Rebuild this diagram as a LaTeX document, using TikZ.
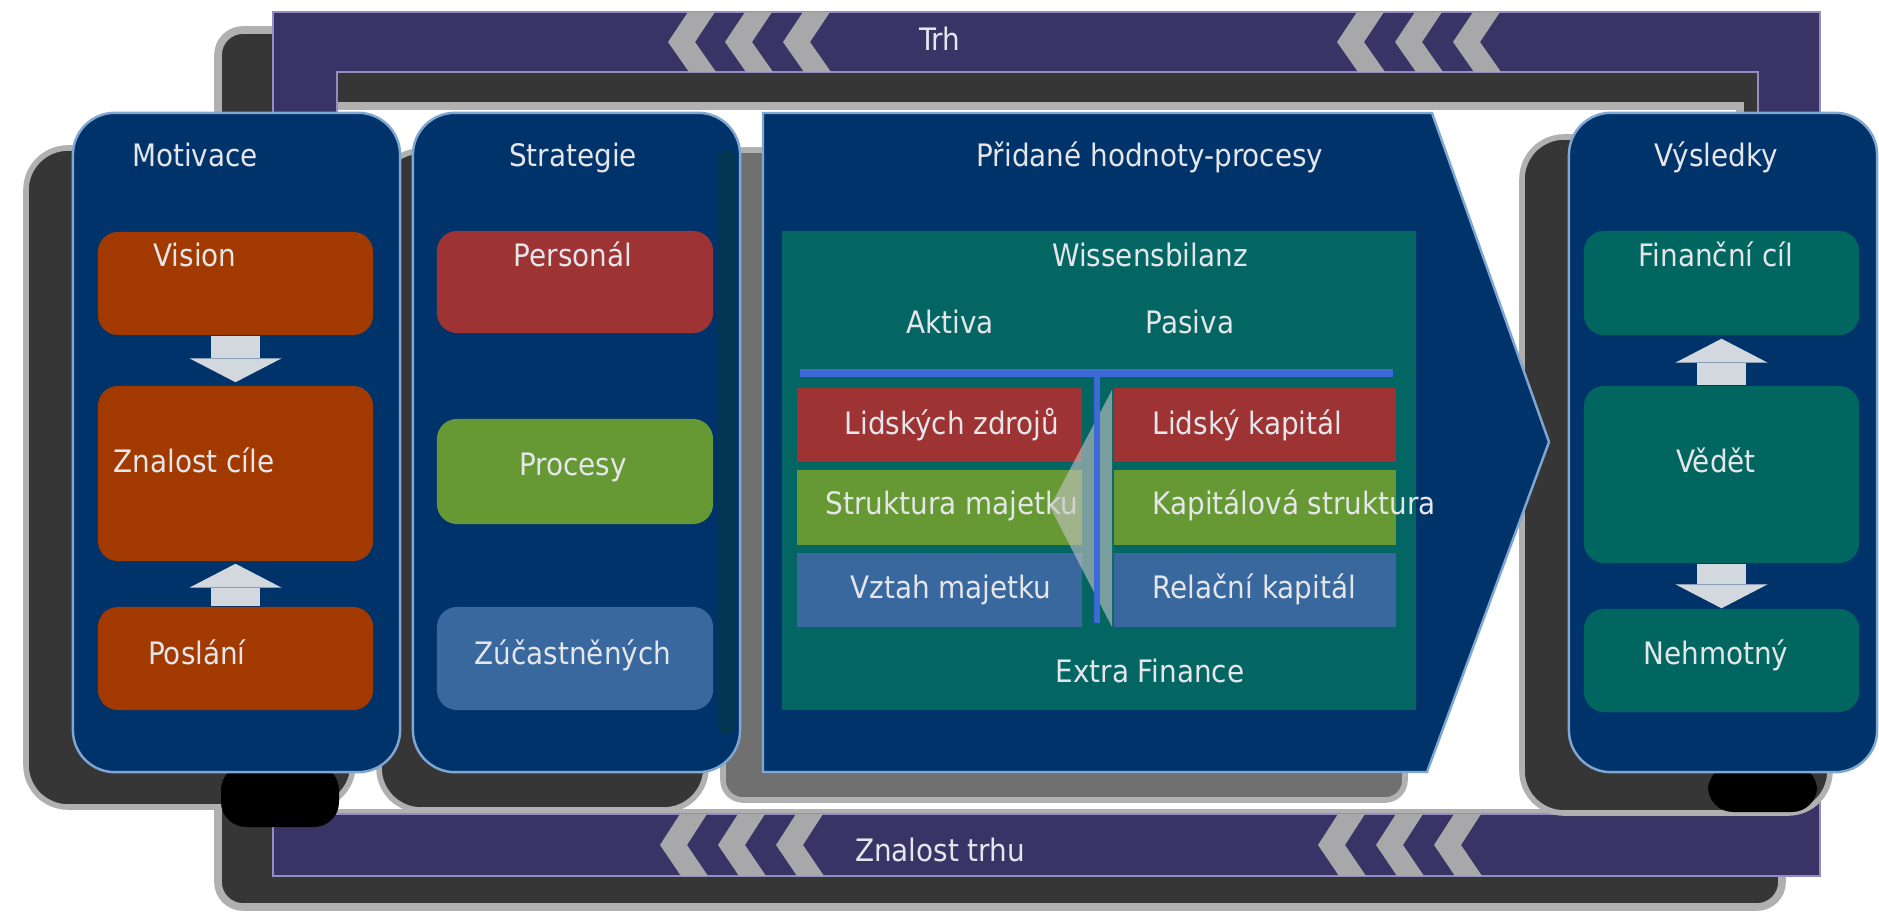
\documentclass[tikz,border=0pt]{standalone}
\usepackage{fontspec}
\setmainfont{DejaVu Sans Condensed}
\usetikzlibrary{arrows.meta}
\definecolor{navy}{HTML}{00336A}
\definecolor{purp}{HTML}{3A3366}
\definecolor{purpedge}{HTML}{958DC0}
\definecolor{darksh}{HTML}{363636}
\definecolor{glow}{HTML}{B0B0B0}
\definecolor{greysh}{HTML}{707070}
\definecolor{edgeb}{HTML}{80A6D2}
\definecolor{orng}{HTML}{A23A00}
\definecolor{redb}{HTML}{9E3333}
\definecolor{grnb}{HTML}{669933}
\definecolor{blub}{HTML}{38689E}
\definecolor{tealb}{HTML}{00665F}
\definecolor{tealw}{HTML}{036663}
\definecolor{linb}{HTML}{3D6AD6}
\definecolor{txtc}{HTML}{E4E6EA}
\definecolor{arrc}{HTML}{D3D8DE}
\definecolor{chevc}{HTML}{A8A8AA}
\definecolor{edgedark}{HTML}{053848}
\newcommand\mychev[3]{\fill[chevc] ({#1+20},#2) -- (#1,{(#2+#3)/2}) -- ({#1+21},#3) -- ({#1+48},#3) -- ({#1+27},{(#2+#3)/2}) -- ({#1+47},#2) -- cycle;}
\begin{document}
\begin{tikzpicture}[x=0.01cm,y=-0.01cm,
  txt/.style={text=txtc, inner sep=0pt, text height=0.22cm, text depth=0pt, font=\fontsize{8.8pt}{10pt}\selectfont},
  colbox/.style={fill=navy, draw=edgeb, line width=0.7pt, rounded corners=0.42cm, inner sep=0pt},
  shadowbox/.style={fill=darksh, draw=glow, line width=1.6pt, rounded corners=0.42cm},
  ibox/.style={inner sep=0pt, rounded corners=0.2cm, minimum width=2.75cm},
  rowbox/.style={inner sep=0pt, minimum height=0.745cm},
  blk/.style={draw=arrc, line width=13.7pt, -{Triangle[length=6.8pt, width=26.2pt, line width=0pt]}}
]
\useasboundingbox (0,0) rectangle (1879,922);
\fill[white] (0,0) rectangle (1879,922);
% dark back frame
\path[fill=darksh, draw=glow, line width=2.2pt, even odd rule]
  [rounded corners=0.25cm] (218,30) rectangle (1782,907)
  [sharp corners] (300,106) rectangle (1740,813);
% purple frame
\path[fill=purp, draw=purpedge, line width=0.6pt, even odd rule]
  (273,12) rectangle (1820,876) (337,72) rectangle (1758,814);
% chevrons
\mychev{668}{12}{72}\mychev{725}{12}{72}\mychev{783}{12}{72}
\mychev{1337}{12}{72}\mychev{1395}{12}{72}\mychev{1453}{12}{72}
\mychev{660}{814}{876}\mychev{718}{814}{876}\mychev{776}{814}{876}
\mychev{1318}{814}{876}\mychev{1376}{814}{876}\mychev{1434}{814}{876}
\node[txt] (trh) at (940,40) {Trh};
\node[txt] (ztrh) at (940,850) {Znalost trhu};
% shadows
\path[shadowbox] (26,148) rectangle (353,807);
\path[shadowbox] (379,151) rectangle (706,810);
\path[shadowbox] (1522,137) rectangle (1830,813);
\path[fill=greysh, draw=glow, line width=1.6pt, rounded corners=0.2cm] (723,150) rectangle (1405,800);
\fill[black, rounded corners=0.25cm] (221,765) rectangle (339,827);
\fill[black, rounded corners=0.25cm] (1708,765) rectangle (1817,812);
% column boxes
\node[colbox, minimum width=3.27cm, minimum height=6.59cm] (motiv) at (236.5,442.5) {};
\node[colbox, minimum width=3.27cm, minimum height=6.59cm] (strat) at (576.5,442.5) {};
\fill[edgedark, opacity=0.7, rounded corners=0.1cm] (717,150) rectangle (736,735);
\node[colbox, minimum width=3.08cm, minimum height=6.59cm] (vysl) at (1723,442.5) {};
\path[fill=navy, draw=edgeb, line width=0.7pt] (763,113) -- (1432,113) -- (1549,442) -- (1427,772) -- (763,772) -- cycle;
% titles
\node[txt] (tmot) at (195,156) {Motivace};
\node[txt] (tstr) at (573,156) {Strategie};
\node[txt] (tpri) at (1150,156) {Přidané hodnoty-procesy};
\node[txt] (tvys) at (1716,156) {Výsledky};
% Motivace
\node[ibox, fill=orng, minimum height=1.03cm] (vision) at (235.5,283.5) {};
\node[ibox, fill=orng, minimum height=1.75cm] (znal) at (235.5,473.5) {};
\node[ibox, fill=orng, minimum height=1.03cm] (posl) at (235.5,658.5) {};
\node[txt] (tvision) at (195,255) {Vision};
\node[txt] (tznal) at (194,461) {Znalost cíle};
\node[txt] (tposl) at (197,653) {Poslání};
\draw[blk] (vision.south) -- ([yshift=0.03cm]znal.north);
\draw[blk] (posl.north) -- ([yshift=-0.02cm]znal.south);
% Strategie
\node[ibox, fill=redb, minimum width=2.76cm, minimum height=1.02cm] (pers) at (575,282) {};
\node[ibox, fill=grnb, minimum width=2.76cm, minimum height=1.05cm] (proc) at (575,471.5) {};
\node[ibox, fill=blub, minimum width=2.76cm, minimum height=1.03cm] (zuc) at (575,658.5) {};
\node[txt] (tpers) at (573,255) {Personál};
\node[txt] (tproc) at (573,464) {Procesy};
\node[txt] (tzuc) at (573,653) {Zúčastněných};
% Vysledky
\node[ibox, fill=tealb, minimum height=1.04cm] (fin) at (1721.5,283) {};
\node[ibox, fill=tealb, minimum height=1.77cm] (vedet) at (1721.5,474.5) {};
\node[ibox, fill=tealb, minimum height=1.03cm] (nehm) at (1721.5,660.5) {};
\node[txt] (tfin) at (1716,255) {Finanční cíl};
\node[txt] (tvedet) at (1716,461) {Vědět};
\node[txt] (tnehm) at (1716,653) {Nehmotný};
\draw[blk] (vedet.north) -- ([yshift=-0.03cm]fin.south);
\draw[blk] (vedet.south) -- (nehm.north);
% Wissensbilanz
\node[fill=tealw, inner sep=0pt, minimum width=6.34cm, minimum height=4.79cm] (wiss) at (1099,470.5) {};
\node[txt] (twiss) at (1150,255) {Wissensbilanz};
\node[txt] (takt) at (950,323) {Aktiva};
\node[txt] (tpas) at (1190,323) {Pasiva};
\node[txt] (textra) at (1150,671) {Extra Finance};
\node[rowbox, fill=redb, minimum width=2.85cm] (l1) at (939.5,425) {};
\node[rowbox, fill=grnb, minimum width=2.85cm, minimum height=0.75cm] (l2) at (939.5,507.5) {};
\node[rowbox, fill=blub, minimum width=2.85cm] (l3) at (939.5,590) {};
\node[rowbox, fill=redb, minimum width=2.82cm] (r1) at (1255,425) {};
\node[rowbox, fill=grnb, minimum width=2.82cm, minimum height=0.75cm] (r2) at (1255,507.5) {};
\node[rowbox, fill=blub, minimum width=2.82cm] (r3) at (1255,590) {};
\node[txt] (tl1) at (952,423) {Lidských zdrojů};
\node[txt] (tl2) at (952,503) {Struktura majetku};
\node[txt] (tl3) at (951,587) {Vztah majetku};
\node[txt, anchor=west] (tr1) at (1152,423) {Lidský kapitál};
\node[txt, anchor=west] (tr2) at (1152,503) {Kapitálová struktura};
\node[txt, anchor=west] (tr3) at (1152,587) {Relační kapitál};
\fill[gray!45, opacity=0.6] (1050,507) -- (1112,390) -- (1112,627) -- cycle;
\coordinate (hl) at (800,373);
\coordinate (hr) at (1393,373);
\coordinate (vt) at (1097,373);
\coordinate (vb) at (1097,623);
\draw[linb, line width=2.3pt] (hl) -- (hr);
\draw[linb, line width=1.7pt] (vt) -- (vb);
\end{tikzpicture}
\end{document}
